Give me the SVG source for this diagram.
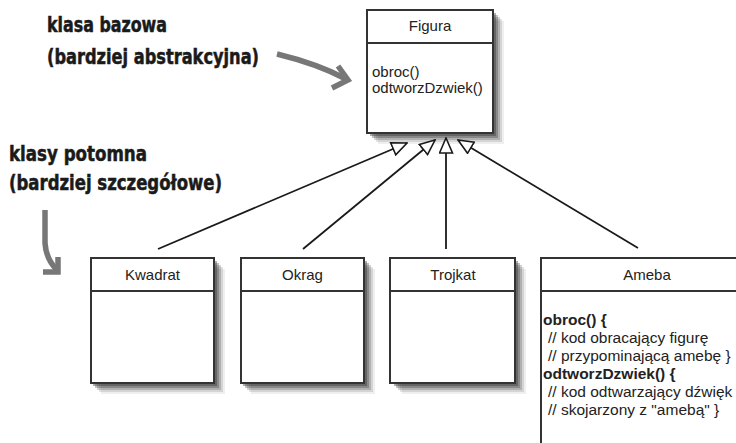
<svg xmlns="http://www.w3.org/2000/svg" width="736" height="443" viewBox="0 0 736 443">
<style>
.box{fill:#fff;stroke:#333;stroke-width:2}
.div{stroke:#333;stroke-width:2}
.t{font-family:"Liberation Sans",Arial,sans-serif;font-size:15px;fill:#222}
.a{font-size:15.5px}
.c{text-anchor:middle}
.b{font-weight:bold}
.hand{font-family:"DejaVu Sans Condensed","DejaVu Sans",sans-serif;font-weight:bold;font-size:21px;fill:#1a1a1a;stroke:#1a1a1a;stroke-width:0.5}
.conn{stroke:#1a1a1a;stroke-width:1.8;fill:none;marker-end:url(#tri)}
.grey{stroke:#777;stroke-width:5.5;fill:none;stroke-linecap:butt;stroke-linejoin:miter}
.sd{fill:#333}
</style>
<defs>
<marker id="tri" viewBox="0 0 17 15" refX="16" refY="7.5" markerWidth="17" markerHeight="15" markerUnits="userSpaceOnUse" orient="auto">
<path d="M1,1 L16,7.5 L1,14 Z" fill="#fff" stroke="#1a1a1a" stroke-width="1.6" stroke-linejoin="miter"/>
</marker>
<g id="shadowS">
<rect class="sd" x="3" y="3" width="124" height="125" opacity="0.4"/>
<rect class="sd" x="5" y="5" width="124" height="125" opacity="0.3"/>
<rect class="sd" x="7" y="7" width="124" height="125" opacity="0.22"/>
<rect class="sd" x="9" y="9" width="124" height="125" opacity="0.14"/>
<rect class="sd" x="11" y="11" width="124" height="125" opacity="0.08"/>
</g>
<g id="shadowF">
<rect class="sd" x="3" y="3" width="126" height="123" opacity="0.4"/>
<rect class="sd" x="5" y="5" width="126" height="123" opacity="0.3"/>
<rect class="sd" x="7" y="7" width="126" height="123" opacity="0.22"/>
<rect class="sd" x="9" y="9" width="126" height="123" opacity="0.14"/>
<rect class="sd" x="11" y="11" width="126" height="123" opacity="0.08"/>
</g>
</defs>
<rect width="736" height="443" fill="#fff"/>

<g id="label-base">
<text class="hand" x="47" y="32" textLength="120" lengthAdjust="spacingAndGlyphs">klasa bazowa</text>
<text class="hand" x="47" y="64" textLength="212" lengthAdjust="spacingAndGlyphs">(bardziej abstrakcyjna)</text>
<path class="grey" d="M277,54 Q318,64 346,79"/>
<path class="grey" d="M338,66 L348,80 L332,88"/>
</g>

<g id="label-derived">
<text class="hand" x="9" y="161" textLength="138" lengthAdjust="spacingAndGlyphs">klasy potomna</text>
<text class="hand" x="9" y="190" textLength="213" lengthAdjust="spacingAndGlyphs">(bardziej szczegółowe)</text>
<path class="grey" d="M45,210 L45,243 Q46,259 57,270"/>
<path class="grey" d="M43,272 L58,272 L58,257"/>
</g>

<g id="Figura">
<use href="#shadowF" x="367" y="10"/>
<rect class="box" x="367" y="10" width="126" height="123"/>
<line class="div" x1="367" y1="43" x2="493" y2="43"/>
<text class="t c" x="430" y="31">Figura</text>
<text class="t" x="372" y="77">obroc()</text>
<text class="t" x="372" y="93">odtworzDzwiek()</text>
</g>

<g id="Kwadrat">
<use href="#shadowS" x="90" y="258"/>
<rect class="box" x="91" y="258" width="123" height="125"/>
<line class="div" x1="91" y1="291" x2="214" y2="291"/>
<text class="t c" x="152.5" y="280">Kwadrat</text>
</g>

<g id="Okrag">
<use href="#shadowS" x="240" y="258"/>
<rect class="box" x="241" y="258" width="123" height="125"/>
<line class="div" x1="241" y1="291" x2="364" y2="291"/>
<text class="t c" x="302.5" y="280">Okrag</text>
</g>

<g id="Trojkat">
<use href="#shadowS" x="391" y="258"/>
<rect class="box" x="390" y="258" width="125" height="125"/>
<line class="div" x1="390" y1="291" x2="515" y2="291"/>
<text class="t c" x="453" y="280">Trojkat</text>
</g>

<g id="Ameba">
<rect class="box" x="541" y="258" width="220" height="200"/>
<line class="div" x1="541" y1="291" x2="736" y2="291"/>
<text class="t c" x="647" y="280">Ameba</text>
<text class="t a b" x="543" y="325">obroc() {</text>
<text class="t a" x="548" y="343">// kod obracający figurę</text>
<text class="t a" x="548" y="361">// przypominającą amebę }</text>
<text class="t a b" x="543" y="379">odtworzDzwiek() {</text>
<text class="t a" x="548" y="397">// kod odtwarzający dźwięk</text>
<text class="t a" x="548" y="415">// skojarzony z "amebą" }</text>
</g>

<g id="connectors">
<line class="conn" x1="158" y1="249" x2="407" y2="143"/>
<line class="conn" x1="303" y1="249" x2="435" y2="140"/>
<line class="conn" x1="446" y1="249" x2="446" y2="138"/>
<line class="conn" x1="638" y1="248" x2="458" y2="140"/>
</g>
</svg>
